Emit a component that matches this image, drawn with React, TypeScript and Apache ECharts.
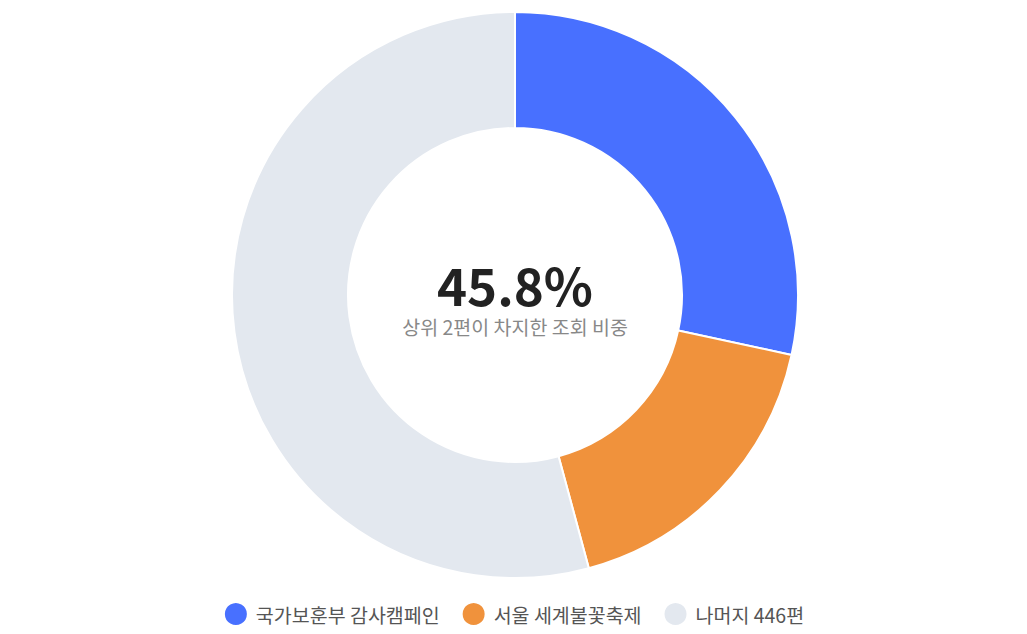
import React, { useEffect, useRef } from "react";
import * as echarts from "echarts";

const categories = ["국가보훈부 감사캠페인", "서울 세계불꽃축제", "나머지 446편"];
const values = [28.4, 17.4, 54.2];
const colors = ["#4870FF", "#F0923C", "#E3E8EF"];
const centerValue = "45.8%";
const centerCaption = "상위 2편이 차지한 조회 비중";

const FONT = "'Noto Sans CJK KR', 'Noto Sans', sans-serif";

export default function App() {
  const ref = useRef<HTMLDivElement>(null);
  useEffect(() => {
    if (!ref.current) return;
    const chart = echarts.init(ref.current, undefined, { renderer: "svg" });
    chart.setOption({
      animation: false,
      textStyle: { fontFamily: FONT },
      legend: {
        bottom: 2,
        left: "center",
        icon: "circle",
        itemWidth: 24,
        itemHeight: 24,
        itemGap: 21,
        textStyle: { fontSize: 19.5, color: "#555", fontFamily: FONT, padding: [0, 0, 0, 3] },
        data: categories,
      },
      graphic: [
        {
          type: "text",
          x: 515,
          y: 284,
          style: {
            text: centerValue,
            fontSize: 51,
            lineHeight: 44,
            fontWeight: "bold",
            fill: "#222",
            fontFamily: FONT,
            align: "center",
            verticalAlign: "middle",
          },
        },
        {
          type: "text",
          x: 515,
          y: 326,
          style: {
            text: centerCaption,
            fontSize: 19.5,
            lineHeight: 20,
            fill: "#888",
            fontFamily: FONT,
            align: "center",
            verticalAlign: "middle",
          },
        },
      ],
      series: [
        {
          type: "pie",
          center: [515, 295],
          radius: [167, 283],
          startAngle: 90,
          clockwise: true,
          label: { show: false },
          labelLine: { show: false },
          emphasis: { disabled: true },
          itemStyle: { borderColor: "#fff", borderWidth: 2 },
          data: categories.map((name, i) => ({
            name,
            value: values[i],
            itemStyle: { color: colors[i] },
          })),
        },
      ],
    });
    return () => chart.dispose();
  }, []);
  return (
    <div
      ref={ref}
      style={{ position: "fixed", left: 0, top: 0, width: 1027, height: 634, background: "#fff" }}
    />
  );
}
